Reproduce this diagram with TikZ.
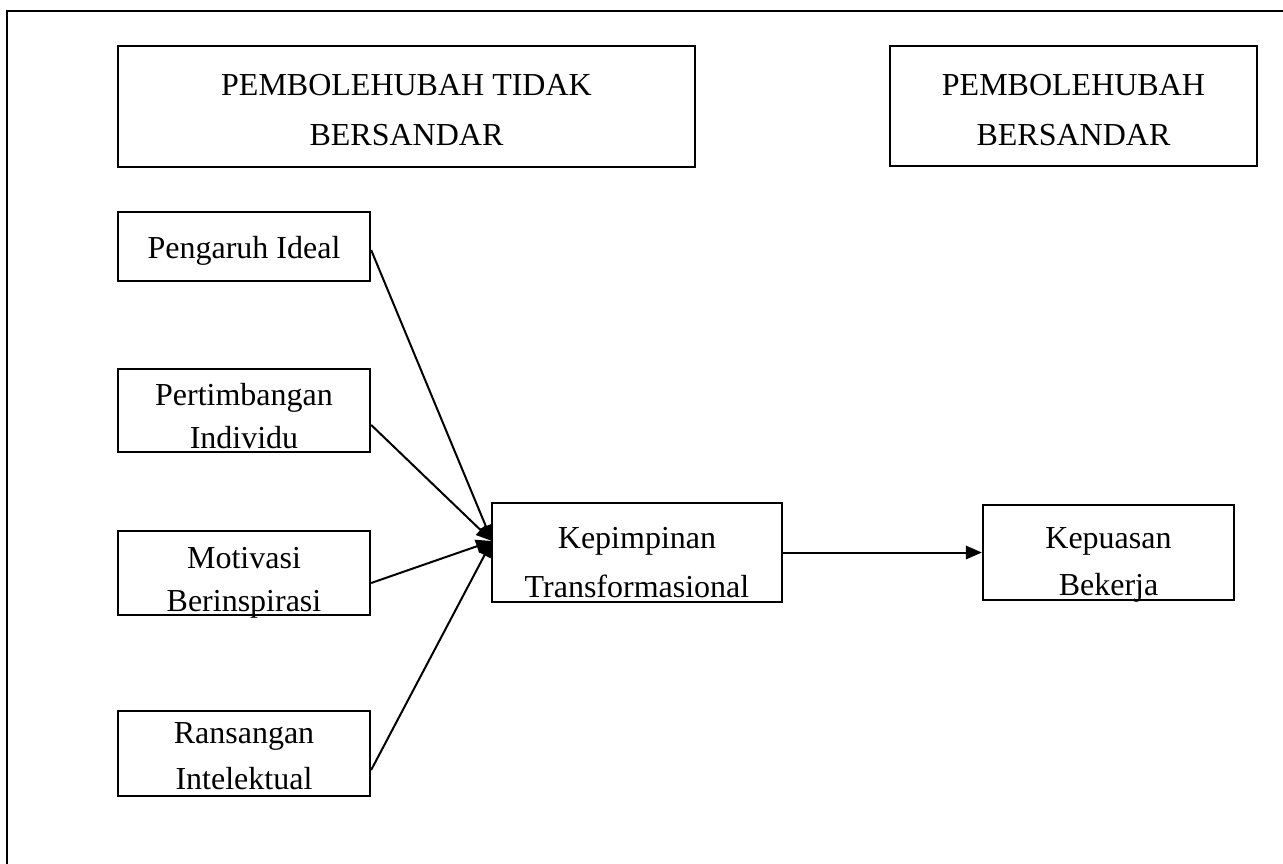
\documentclass[tikz,border=0pt]{standalone}
\usepackage{fontspec}
\setmainfont{Liberation Serif}
\usetikzlibrary{arrows.meta}
\newcommand{\boxtext}[2]{\fontsize{12}{#1}\selectfont\begin{tabular}{@{}c@{}}#2\end{tabular}}
\begin{document}
\begin{tikzpicture}[x=0.375pt,y=-0.375pt,
  box/.style={draw,line width=0.85pt,inner sep=0pt},
  txt/.style={inner sep=0pt,yshift=-#1},
  conn/.style={line width=0.75pt,-{Triangle[length=6pt,width=5pt]}}]
\useasboundingbox (0,0) rectangle (1283,863);
\clip (0,0) rectangle (1283,863);
\draw[line width=0.85pt] (7,900) -- (7,11) -- (1300,11);
\node[box,minimum width=577*0.375pt,minimum height=121*0.375pt,
  label={[txt=1.5pt]center:\boxtext{18.75pt}{PEMBOLEHUBAH TIDAK\\BERSANDAR}}] (ptb) at (406.5,106.5) {};
\node[box,minimum width=367*0.375pt,minimum height=120*0.375pt,
  label={[txt=1.5pt]center:\boxtext{18.75pt}{PEMBOLEHUBAH\\BERSANDAR}}] (pb) at (1073.5,106) {};
\node[box,minimum width=252*0.375pt,minimum height=69*0.375pt,
  label={[txt=1.1pt]center:\boxtext{17pt}{Pengaruh Ideal}}] (pi) at (244,246.5) {};
\node[box,minimum width=252*0.375pt,minimum height=83*0.375pt,
  label={[txt=3pt]center:\boxtext{15.8pt}{Pertimbangan\\Individu}}] (pt) at (244,410.5) {};
\node[box,minimum width=252*0.375pt,minimum height=84*0.375pt,
  label={[txt=3.1pt]center:\boxtext{16.1pt}{Motivasi\\Berinspirasi}}] (mb) at (244,573) {};
\node[box,minimum width=252*0.375pt,minimum height=85*0.375pt,
  label={[txt=1.6pt]center:\boxtext{17.25pt}{Ransangan\\Intelektual}}] (ri) at (244,753.5) {};
\node[box,minimum width=290*0.375pt,minimum height=99*0.375pt,
  label={[txt=4.1pt]center:\boxtext{18.4pt}{Kepimpinan\\Transformasional}}] (kt) at (637,552.5) {};
\node[box,minimum width=251*0.375pt,minimum height=95*0.375pt,
  label={[txt=3.7pt]center:\boxtext{17.6pt}{Kepuasan\\Bekerja}}] (kb) at (1108.5,552.5) {};
\coordinate (conv) at (492,541);
\draw[conn] ([yshift=-1.3pt]pi.east) -- (conv);
\draw[conn] ([yshift=-5.4pt]pt.east) -- (conv);
\draw[conn] ([yshift=-3.75pt]mb.east) -- (conv);
\draw[conn] ([yshift=-6.2pt]ri.east) -- (conv);
\draw[conn] (kt.east) -- (kb.west);
\end{tikzpicture}
\end{document}
